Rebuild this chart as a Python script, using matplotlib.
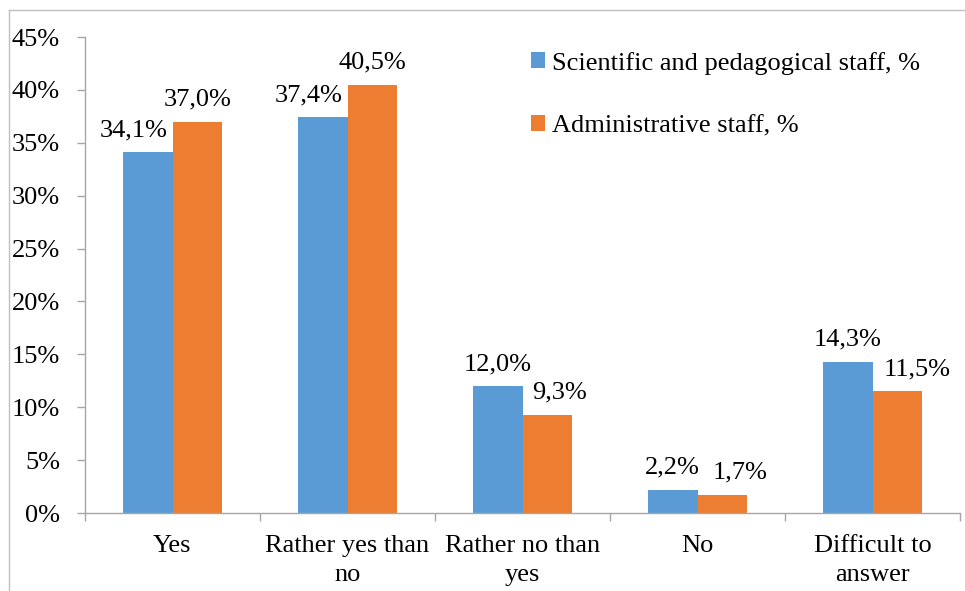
import numpy as np
import matplotlib.pyplot as plt
from matplotlib.ticker import FixedLocator, PercentFormatter

categories = ["Yes", "Rather yes than\nno", "Rather no than\nyes", "No", "Difficult to\nanswer"]
scientific = [34.1, 37.4, 12.0, 2.2, 14.3]
administrative = [37.0, 40.5, 9.3, 1.7, 11.5]
series_names = ["Scientific and pedagogical staff, %", "Administrative staff, %"]

# horizontal nudges (points) of the value labels, as in the original layout
sci_shift = [-10, -10, 0, 0, 0]
adm_shift = [0, 0, 9, 13, 14]

blue = "#5B9BD5"
orange = "#ED7D31"
grey = "#A6A6A6"

plt.rcParams["font.family"] = ["Liberation Serif", "DejaVu Serif"]
plt.rcParams["font.size"] = 19

fig = plt.figure(figsize=(9.65, 5.91), dpi=100)
ax = fig.add_axes([85 / 965, 1 - 513 / 591, 875 / 965, 476 / 591])

x = np.arange(len(categories))
w = 0.285
b1 = ax.bar(x - w / 2, scientific, w, color=blue, label=series_names[0])
b2 = ax.bar(x + w / 2, administrative, w, color=orange, label=series_names[1])

for bars, vals, shifts in [(b1, scientific, sci_shift), (b2, administrative, adm_shift)]:
    for bar, v, dx in zip(bars, vals, shifts):
        ax.annotate(f"{v:.1f}%".replace(".", ","),
                    (bar.get_x() + bar.get_width() / 2, v),
                    xytext=(dx, 8), textcoords="offset points",
                    ha="center", va="bottom")

ax.set_xlim(-0.5, len(categories) - 0.5)
ax.set_ylim(0, 45)
ax.set_yticks(np.arange(0, 46, 5))
ax.yaxis.set_major_formatter(PercentFormatter(decimals=0))
ax.set_xticks(x)
ax.set_xticklabels(categories, linespacing=1.4)
ax.xaxis.set_minor_locator(FixedLocator(np.arange(-0.5, len(categories), 1)))
ax.tick_params(axis="x", which="major", length=0, pad=16)
ax.tick_params(axis="x", which="minor", length=6, color=grey, width=1)
ax.tick_params(axis="y", length=6, color=grey, width=1, pad=12)

for s in ["top", "right"]:
    ax.spines[s].set_visible(False)
for s in ["left", "bottom"]:
    ax.spines[s].set_color(grey)
    ax.spines[s].set_linewidth(1)

ax.legend(loc="upper left", bbox_to_anchor=(520 / 965, 1 - 41 / 591),
          bbox_transform=fig.transFigure, frameon=False,
          handlelength=0.55, handleheight=0.55, handletextpad=0.25,
          labelspacing=1.55, borderaxespad=0)

# outer frame lines (top and left)
fig.add_artist(plt.Line2D([9 / 965, 1], [1 - 10 / 591, 1 - 10 / 591],
                          transform=fig.transFigure, color="#BFBFBF", lw=1))
fig.add_artist(plt.Line2D([9 / 965, 9 / 965], [0, 1 - 10 / 591],
                          transform=fig.transFigure, color="#BFBFBF", lw=1))

fig.savefig("out.png", dpi=100)
